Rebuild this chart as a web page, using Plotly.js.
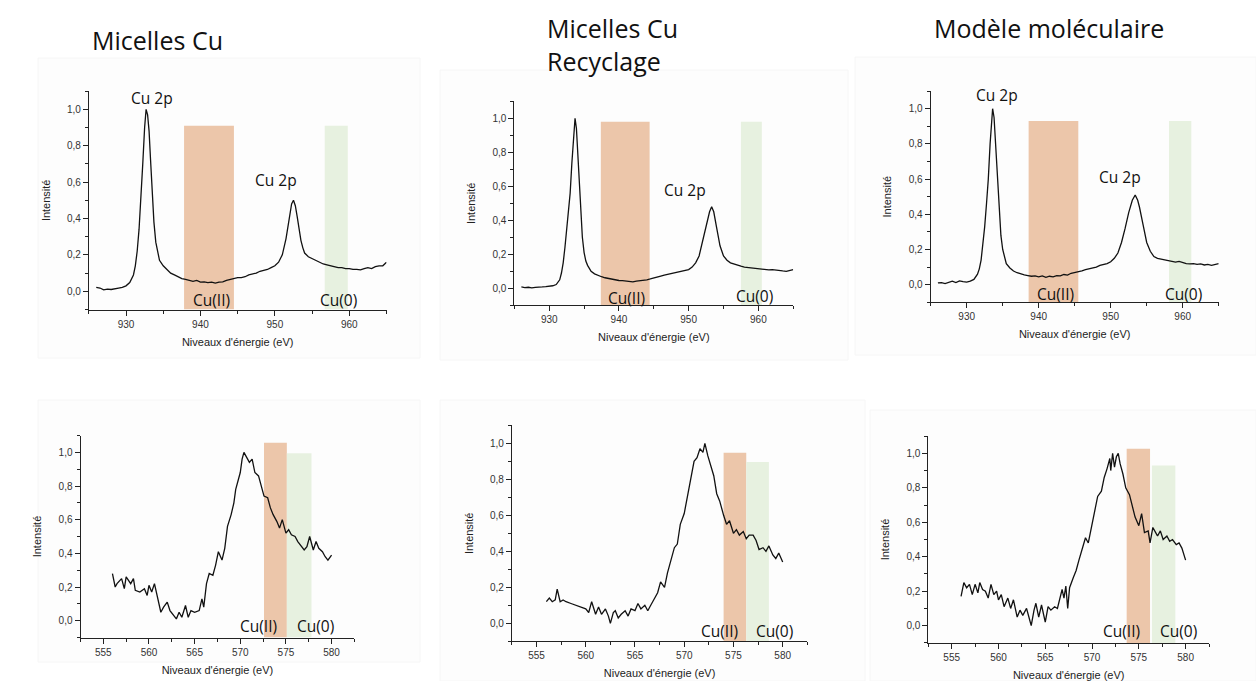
<!DOCTYPE html>
<html>
<head>
<meta charset="utf-8">
<script src="https://cdn.plot.ly/plotly-3.0.1.min.js"></script>
<style>html,body{margin:0;padding:0;background:#fff;}#chart{width:1256px;height:681px;}</style>
</head>
<body>
<div id="chart"></div>
<script>
// ---------- DATA ----------
const panelTitles = ["Micelles Cu", "Micelles Cu<br>Recyclage", "Modèle moléculaire"];
const axisTitleX = ["Niveaux d'énergie (eV)", "Niveaux d'énergie (eV)"];
const axisTitleY = "Intensité";

// Cu 2p spectra (top row)
const cu2pX_micelles = [926.0,926.5,927.0,927.5,928.0,928.5,929.0,929.5,930.0,930.5,931.0,931.25,931.5,931.75,932.0,932.25,932.5,932.7,932.9,933.1,933.3,933.5,933.75,934.0,934.25,934.5,935.0,935.5,936.0,936.5,937.0,937.5,938.0,938.5,939.0,939.5,940.0,940.5,941.0,941.5,942.0,942.5,943.0,943.5,944.0,944.5,945.0,945.5,946.0,946.5,947.0,947.5,948.0,948.5,949.0,949.5,950.0,950.5,951.0,951.5,951.75,952.0,952.25,952.5,952.75,953.0,953.25,953.5,953.75,954.0,954.5,955.0,955.5,956.0,956.5,957.0,957.5,958.0,958.5,959.0,959.5,960.0,960.5,961.0,961.5,962.0,962.5,963.0,963.5,964.0,964.5,965.0];
const cu2pY_micelles = [0.022,0.018,0.008,0.012,0.010,0.016,0.018,0.022,0.030,0.048,0.09,0.14,0.22,0.34,0.50,0.70,0.90,1.0,0.97,0.88,0.72,0.55,0.38,0.27,0.21,0.17,0.14,0.12,0.10,0.09,0.08,0.07,0.065,0.06,0.055,0.06,0.05,0.052,0.048,0.05,0.045,0.05,0.052,0.06,0.065,0.07,0.075,0.075,0.08,0.09,0.095,0.10,0.11,0.115,0.12,0.13,0.14,0.16,0.2,0.29,0.36,0.43,0.48,0.5,0.47,0.41,0.34,0.28,0.24,0.21,0.19,0.18,0.17,0.16,0.15,0.145,0.14,0.135,0.13,0.13,0.125,0.125,0.12,0.12,0.118,0.125,0.13,0.125,0.135,0.14,0.14,0.16];

const cu2pX_recyclage = [926.0,926.5,927.0,927.5,928.0,928.5,929.0,929.5,930.0,930.5,931.0,931.5,931.75,932.0,932.25,932.5,932.75,933.0,933.25,933.5,933.7,933.9,934.1,934.3,934.5,934.75,935.0,935.25,935.5,936.0,936.5,937.0,937.5,938.0,938.5,939.0,939.5,940.0,940.5,941.0,941.5,942.0,942.5,943.0,943.5,944.0,944.5,945.0,945.5,946.0,946.5,947.0,947.5,948.0,948.5,949.0,949.5,950.0,950.5,951.0,951.5,952.0,952.5,953.0,953.3,953.6,954.0,954.5,955.0,955.5,956.0,956.5,957.0,957.5,958.0,958.5,959.0,959.5,960.0,960.5,961.0,961.5,962.0,962.5,963.0,963.5,964.0,964.5,965.0];
const cu2pY_recyclage = [0.008,0.004,0.006,0.002,0.006,0.005,0.008,0.010,0.012,0.015,0.022,0.05,0.09,0.15,0.24,0.36,0.46,0.56,0.74,0.92,1.0,0.94,0.78,0.58,0.44,0.30,0.21,0.16,0.135,0.10,0.085,0.075,0.068,0.062,0.058,0.052,0.05,0.046,0.045,0.042,0.04,0.038,0.042,0.044,0.046,0.05,0.055,0.062,0.068,0.072,0.078,0.082,0.088,0.094,0.098,0.102,0.106,0.11,0.125,0.15,0.19,0.28,0.37,0.45,0.48,0.45,0.36,0.25,0.19,0.165,0.15,0.142,0.135,0.13,0.125,0.122,0.12,0.118,0.115,0.112,0.11,0.108,0.11,0.106,0.104,0.102,0.10,0.105,0.11];

const cu2pX_modele = [926.0,926.5,927.0,927.5,928.0,928.5,929.0,929.5,930.0,930.5,931.0,931.5,931.75,932.0,932.25,932.5,932.75,933.0,933.25,933.5,933.6,933.8,934.0,934.25,934.5,934.75,935.0,935.25,935.5,936.0,936.5,937.0,937.5,938.0,938.5,939.0,939.5,940.0,940.5,941.0,941.5,942.0,942.5,943.0,943.5,944.0,944.5,945.0,945.5,946.0,946.5,947.0,947.5,948.0,948.5,949.0,949.5,950.0,950.5,951.0,951.5,952.0,952.5,953.0,953.4,953.75,954.0,954.5,955.0,955.5,956.0,956.5,957.0,957.5,958.0,958.5,959.0,959.5,960.0,960.5,961.0,961.5,962.0,962.5,963.0,963.5,964.0,964.5,965.0];
const cu2pY_modele = [0.01,0.012,0.006,0.015,0.02,0.012,0.022,0.018,0.015,0.02,0.03,0.06,0.09,0.14,0.22,0.33,0.46,0.6,0.8,0.96,1.0,0.95,0.8,0.6,0.4,0.28,0.2,0.15,0.12,0.095,0.078,0.068,0.06,0.056,0.052,0.048,0.05,0.045,0.05,0.042,0.048,0.045,0.052,0.05,0.058,0.055,0.065,0.068,0.072,0.078,0.085,0.09,0.095,0.1,0.11,0.115,0.12,0.13,0.15,0.18,0.24,0.32,0.41,0.48,0.51,0.48,0.44,0.34,0.24,0.19,0.16,0.15,0.145,0.14,0.135,0.13,0.128,0.132,0.125,0.12,0.118,0.12,0.115,0.118,0.112,0.115,0.11,0.115,0.12];

// Cu LMM spectra (bottom row)
const lmmX_micelles = [556.0,556.3,556.5,557.0,557.3,557.5,558.0,558.3,558.5,559.0,559.5,559.8,560.0,560.3,560.6,561.0,561.3,561.6,562.0,562.3,562.6,563.0,563.3,563.6,564.0,564.3,564.6,565.0,565.5,565.8,566.0,566.3,566.6,567.0,567.3,567.6,568.0,568.3,568.6,569.0,569.3,569.5,569.8,570.0,570.2,570.4,570.7,571.0,571.3,571.6,572.0,572.3,572.6,573.0,573.3,573.6,574.0,574.3,574.6,575.0,575.3,575.6,576.0,576.3,576.6,577.0,577.3,577.6,578.0,578.3,578.6,579.0,579.3,579.6,580.0];
const lmmY_micelles = [0.28,0.20,0.22,0.25,0.19,0.26,0.22,0.25,0.18,0.17,0.19,0.15,0.21,0.17,0.22,0.12,0.05,0.08,0.11,0.06,0.04,0.01,0.05,0.02,0.09,0.02,0.06,0.05,0.06,0.13,0.08,0.22,0.28,0.27,0.33,0.41,0.36,0.43,0.56,0.63,0.70,0.78,0.84,0.88,0.96,1.00,0.97,0.94,0.96,0.88,0.86,0.80,0.74,0.73,0.67,0.63,0.59,0.55,0.60,0.52,0.54,0.51,0.50,0.47,0.45,0.42,0.44,0.50,0.42,0.47,0.43,0.41,0.38,0.36,0.39];

const lmmX_recyclage = [556.0,556.3,556.6,556.9,557.1,557.4,557.7,558.0,558.5,559.0,559.5,560.0,560.3,560.6,561.0,561.3,561.6,562.0,562.3,562.5,562.8,563.0,563.3,563.6,564.0,564.3,564.6,565.0,565.3,565.6,566.0,566.3,566.6,567.0,567.3,567.6,568.0,568.3,568.6,569.0,569.3,569.6,570.0,570.3,570.6,571.0,571.3,571.6,571.9,572.1,572.4,572.7,573.0,573.3,573.6,574.0,574.3,574.6,575.0,575.3,575.6,576.0,576.3,576.6,577.0,577.3,577.6,578.0,578.3,578.6,579.0,579.3,579.6,580.0];
const lmmY_recyclage = [0.12,0.14,0.12,0.13,0.19,0.12,0.13,0.12,0.11,0.10,0.09,0.08,0.06,0.12,0.05,0.09,0.05,0.08,0.04,0.00,0.06,0.07,0.03,0.05,0.07,0.04,0.08,0.07,0.11,0.08,0.10,0.07,0.10,0.14,0.17,0.23,0.20,0.28,0.34,0.42,0.44,0.55,0.61,0.70,0.79,0.90,0.92,0.97,0.95,1.00,0.93,0.88,0.82,0.72,0.68,0.60,0.55,0.57,0.50,0.52,0.49,0.51,0.47,0.49,0.49,0.46,0.41,0.42,0.40,0.43,0.38,0.36,0.39,0.34];

const lmmX_modele = [556.0,556.3,556.6,556.9,557.2,557.5,557.8,558.0,558.3,558.6,558.9,559.2,559.5,559.8,560.0,560.3,560.6,561.0,561.3,561.6,562.0,562.3,562.6,563.0,563.3,563.5,563.8,564.0,564.3,564.6,565.0,565.3,565.6,566.0,566.3,566.6,566.8,567.0,567.2,567.4,567.6,568.0,568.3,568.6,569.0,569.3,569.6,570.0,570.3,570.6,571.0,571.3,571.6,571.9,572.0,572.2,572.4,572.6,572.8,573.0,573.3,573.6,574.0,574.3,574.6,575.0,575.3,575.6,576.0,576.2,576.5,576.8,577.0,577.3,577.6,578.0,578.3,578.6,579.0,579.3,579.6,580.0];
const lmmY_modele = [0.17,0.25,0.22,0.24,0.18,0.24,0.19,0.25,0.21,0.20,0.16,0.24,0.18,0.20,0.15,0.18,0.11,0.16,0.10,0.15,0.05,0.09,0.06,0.10,0.04,0.00,0.09,0.13,0.05,0.12,0.02,0.11,0.09,0.11,0.10,0.17,0.21,0.16,0.23,0.10,0.22,0.28,0.32,0.38,0.45,0.51,0.48,0.58,0.67,0.75,0.78,0.86,0.91,0.97,0.90,1.00,0.92,0.98,1.00,0.94,0.88,0.80,0.76,0.70,0.63,0.58,0.65,0.54,0.55,0.48,0.57,0.54,0.52,0.55,0.50,0.52,0.49,0.50,0.47,0.48,0.45,0.38];

// Shaded bands: [x0, x1, top]
const bandCuII = [[937.8,944.5,0.91],[937.4,944.4,0.98],[938.6,945.5,0.93],[572.6,575.1,1.057],[574.0,576.3,0.948],[573.7,576.2,1.026]];
const bandCu0  = [[956.7,959.8,0.91],[957.5,960.5,0.98],[958.1,961.2,0.93],[575.1,577.8,0.994],[576.3,578.6,0.896],[576.4,578.9,0.93]];

// Labels: [text, x, y]
const peakLabels = [
  [["Cu 2p",933.5,1.06],["Cu 2p",950.1,0.61],["Cu(II)",941.5,-0.05],["Cu(0)",958.5,-0.05]],
  [["Cu 2p",933.0,1.12],["Cu 2p",949.5,0.58],["Cu(II)",941.1,-0.055],["Cu(0)",959.4,-0.045]],
  [["Cu 2p",934.2,1.08],["Cu 2p",951.3,0.61],["Cu(II)",942.4,-0.05],["Cu(0)",960.1,-0.05]],
  [["Cu LMM scan",566.2,1.13],["Cu(II)",572.0,-0.03],["Cu(0)",578.2,-0.03]],
  [["Cu LMM scan",574.5,1.11],["Cu(II)",573.6,-0.04],["Cu(0)",579.2,-0.04]],
  [["Cu LMM scan",572.2,1.13],["Cu(II)",573.2,-0.03],["Cu(0)",579.2,-0.03]]
];

// ---------- LAYOUT ----------
const W = 1256, H = 681;
// pixel boxes of each plot area [left, right, top, bottom]
const boxes = [
  [88.8, 386.5, 91.1, 309.5],
  [514.4, 793.2, 101.3, 305.3],
  [930.7, 1218.7, 91.1, 302.3],
  [80.5, 354.4, 435.5, 637.5],
  [511.9, 807.3, 425.3, 641.3],
  [928.3, 1209.0, 436.1, 642.9]
];
const series = [
  [cu2pX_micelles, cu2pY_micelles],
  [cu2pX_recyclage, cu2pY_recyclage],
  [cu2pX_modele, cu2pY_modele],
  [lmmX_micelles, lmmY_micelles],
  [lmmX_recyclage, lmmY_recyclage],
  [lmmX_modele, lmmY_modele]
];

const tickFont = {family: "Arial, Liberation Sans, sans-serif", size: 10, color: "#333"};
const titleFont = {family: "Arial, Liberation Sans, sans-serif", size: 11, color: "#222"};
const labelFont = {family: "Open Sans, sans-serif", size: 15.5, color: "#111"};

const layout = {
  width: W, height: H,
  margin: {l: 0, r: 0, t: 0, b: 0},
  paper_bgcolor: "#ffffff",
  plot_bgcolor: "rgba(0,0,0,0)",
  showlegend: false,
  separators: ", ",
  shapes: [],
  annotations: []
};

// faint backgrounds of pasted images
const imgBoxes = [[38,420,58,358],[440,848,70,360],[855,1256,57,355],[38,420,400,662],[440,865,400,681],[870,1256,410,681]];
imgBoxes.forEach(b => {
  layout.shapes.push({type: "rect", xref: "paper", yref: "paper", layer: "below",
    x0: b[0]/W, x1: b[1]/W, y0: 1 - b[3]/H, y1: 1 - b[2]/H,
    fillcolor: "#fdfdfd", line: {color: "#f6f6f6", width: 1}});
});

const traces = [];
for (let i = 0; i < 6; i++) {
  const n = i === 0 ? "" : String(i + 1);
  const b = boxes[i];
  const top = i < 3;
  const xr = top ? [925, 965] : [552.5, 582.5];
  layout["xaxis" + n] = {
    domain: [b[0]/W, b[1]/W], anchor: "y" + n, range: xr,
    showgrid: false, zeroline: false, showline: true, linecolor: "#222", linewidth: 1,
    ticks: "outside", ticklen: 5, tickwidth: 1, tickcolor: "#222",
    dtick: top ? 10 : 5, tick0: top ? 930 : 555,
    minor: {dtick: top ? 5 : 2.5, ticks: "outside", ticklen: 3, tickcolor: "#222"},
    tickfont: tickFont,
    title: {text: axisTitleX[0], font: titleFont, standoff: 9},
    fixedrange: true
  };
  layout["yaxis" + n] = {
    domain: [1 - b[3]/H, 1 - b[2]/H], anchor: "x" + n, range: [-0.1, 1.1],
    showgrid: false, zeroline: false, showline: true, linecolor: "#222", linewidth: 1,
    ticks: "outside", ticklen: 5, tickwidth: 1, tickcolor: "#222",
    dtick: 0.2, tick0: 0, tickformat: ".1f",
    minor: {dtick: 0.1, ticks: "outside", ticklen: 3, tickcolor: "#222"},
    tickfont: tickFont,
    title: {text: axisTitleY, font: titleFont, standoff: 14},
    fixedrange: true
  };
  traces.push({
    type: "scatter", mode: "lines", x: series[i][0], y: series[i][1],
    xaxis: "x" + n, yaxis: "y" + n,
    line: {color: "#111", width: 1.3}, hoverinfo: "skip"
  });
  const c2 = bandCuII[i], c0 = bandCu0[i];
  layout.shapes.push({type: "rect", xref: "x" + n, yref: "y" + n, layer: "below",
    x0: c2[0], x1: c2[1], y0: -0.1, y1: c2[2], fillcolor: "#ecc6aa", line: {width: 0}});
  layout.shapes.push({type: "rect", xref: "x" + n, yref: "y" + n, layer: "below",
    x0: c0[0], x1: c0[1], y0: -0.1, y1: c0[2], fillcolor: "#e7f1e0", line: {width: 0}});
  peakLabels[i].forEach(l => {
    layout.annotations.push({xref: "x" + n, yref: "y" + n, x: l[1], y: l[2], text: l[0],
      showarrow: false, font: labelFont, xanchor: "center", yanchor: "middle"});
  });
}

// panel titles
const titlePos = [[90, 40], [545, 44], [932, 28]];
panelTitles.forEach((t, i) => {
  layout.annotations.push({xref: "paper", yref: "paper", x: titlePos[i][0]/W, y: 1 - titlePos[i][1]/H,
    text: t, showarrow: false, xanchor: "left", yanchor: "middle", align: "left",
    font: {family: "Open Sans, sans-serif", size: 25, color: "#111"}});
});

Plotly.newPlot("chart", traces, layout, {staticPlot: true, displayModeBar: false});
</script>
</body>
</html>
